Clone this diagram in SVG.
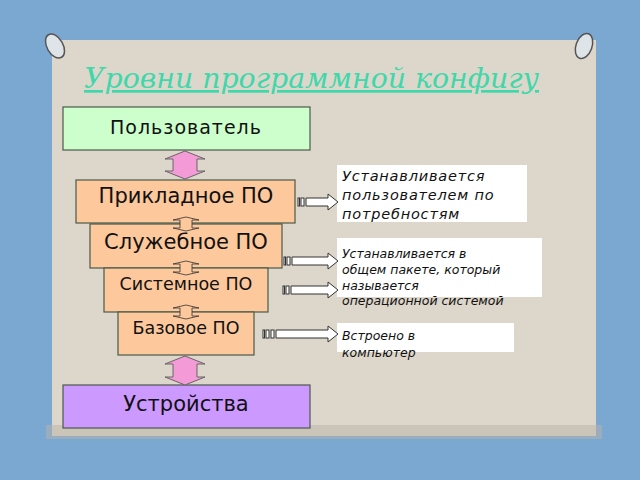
<svg xmlns="http://www.w3.org/2000/svg" width="640" height="480" viewBox="0 0 640 480">
<style>
.box{stroke:#4a5a4a;stroke-width:1.2}
.lvl{fill:#fdc89b}
.t{font-family:"DejaVu Sans",sans-serif;fill:#111;text-anchor:middle}
.n{font-family:"DejaVu Sans",sans-serif;font-style:italic;fill:#111}
.note{fill:#fff}
.pk{fill:#f49ad6;stroke:#666;stroke-width:1}
.sm{fill:#fdc89b;stroke:#333;stroke-width:0.8}
.ba{fill:#fff;stroke:#333;stroke-width:1}
</style>
<rect width="640" height="480" fill="#7ba8d0"/>
<rect x="52" y="40" width="544" height="396" fill="#ddd6ca"/>
<rect x="46" y="425" width="556" height="14" fill="#b9b2a8" opacity="0.5"/>
<g id="pins">
<ellipse cx="55" cy="46" rx="8" ry="13" fill="#dfe4e8" stroke="#555" stroke-width="1.5" transform="rotate(-30 55 46)"/>
<ellipse cx="584" cy="46" rx="8" ry="13" fill="#dfe4e8" stroke="#555" stroke-width="1.5" transform="rotate(20 584 46)"/>
</g>
<text x="84" y="88" font-family="DejaVu Serif,serif" font-style="italic" font-size="27" fill="#3fd8ab" text-decoration="underline" textLength="455" lengthAdjust="spacingAndGlyphs">Уровни программной конфигу</text>
<g id="user"><rect class="box" x="63" y="107" width="247" height="43" fill="#ccffcc"/><text class="t" x="186" y="134" font-size="19" letter-spacing="1">Пользователь</text></g>
<g id="app"><rect class="box lvl" x="76" y="180" width="219" height="43"/><text class="t" x="186" y="203" font-size="21">Прикладное ПО</text></g>
<g id="util"><rect class="box lvl" x="90" y="224" width="192" height="44"/><text class="t" x="186" y="249" font-size="21">Служебное ПО</text></g>
<g id="sys"><rect class="box lvl" x="104" y="268" width="164" height="44"/><text class="t" x="186" y="290" font-size="17.5">Системное ПО</text></g>
<g id="base"><rect class="box lvl" x="118" y="312" width="136" height="43"/><text class="t" x="186" y="334" font-size="17.5">Базовое ПО</text></g>
<g id="dev"><rect class="box" x="63" y="385" width="247" height="43" fill="#cc99ff"/><text class="t" x="186" y="411" font-size="21">Устройства</text></g>
<g id="n1"><rect class="note" x="337" y="165" width="190" height="57"/><text class="n" x="342" y="181" font-size="14.5" letter-spacing="0.8">Устанавливается<tspan x="342" y="200">пользователем по</tspan><tspan x="342" y="219">потребностям</tspan></text></g>
<g id="n2"><rect class="note" x="337" y="238" width="205" height="59"/><text class="n" x="342" y="258" font-size="12.5">Устанавливается в<tspan x="342" y="274">общем пакете, который</tspan><tspan x="342" y="290">называется</tspan><tspan x="342" y="305">операционной системой</tspan></text></g>
<g id="n3"><rect class="note" x="337" y="323" width="177" height="29"/><text class="n" x="342" y="340" font-size="12.5">Встроено в<tspan x="342" y="357">компьютер</tspan></text></g>
<g id="connectors">
<path class="pk" d="M185 151 L205 159 L197 159 L197 171 L205 171 L185 179 L165 171 L173 171 L173 159 L165 159 Z"/>
<path class="pk" d="M185 356 L205 364 L197 364 L197 377 L205 377 L185 385 L165 377 L173 377 L173 364 L165 364 Z"/>
<path class="sm" d="M186 217 L199 220 L192 220 L192 228 L199 228 L186 231 L173 228 L180 228 L180 220 L173 220 Z"/>
<path class="sm" d="M186 261 L199 264 L192 264 L192 272 L199 272 L186 275 L173 272 L180 272 L180 264 L173 264 Z"/>
<path class="sm" d="M186 305 L199 308 L192 308 L192 316 L199 316 L186 319 L173 316 L180 316 L180 308 L173 308 Z"/>
<g class="ba">
<rect x="298" y="198" width="1.5" height="8"/><rect x="301" y="198" width="3" height="8"/><path d="M306 198 H328 V194 L338 202 L328 210 V206 H306 Z"/>
<rect x="284" y="257" width="1.5" height="8"/><rect x="287" y="257" width="3" height="8"/><path d="M292 257 H328 V253 L338 261 L328 269 V265 H292 Z"/>
<rect x="283" y="286" width="1.5" height="8"/><rect x="286" y="286" width="3" height="8"/><path d="M291 286 H328 V282 L338 290 L328 298 V294 H291 Z"/>
<rect x="263" y="330" width="1.5" height="8"/><rect x="266" y="330" width="3" height="8"/><rect x="271" y="330" width="3" height="8"/><path d="M276 330 H328 V326 L338 334 L328 342 V338 H276 Z"/>
</g>
</g>
</svg>
